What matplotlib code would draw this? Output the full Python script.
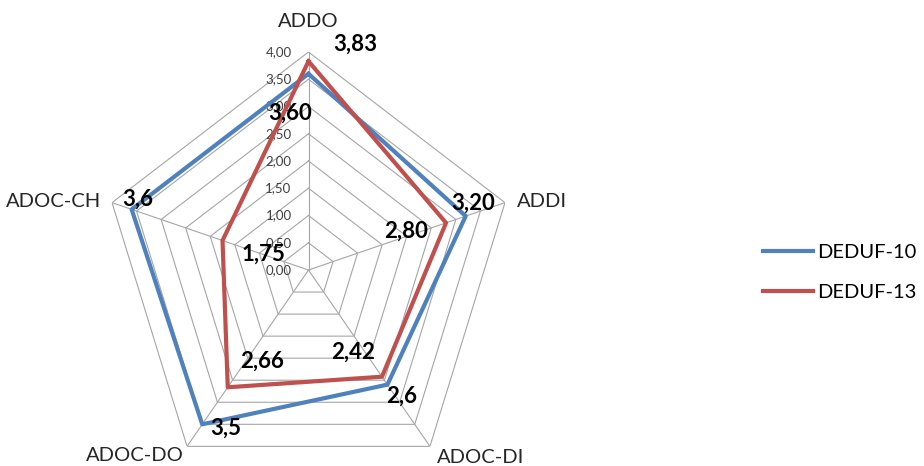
import numpy as np
import matplotlib.pyplot as plt

plt.rcParams['font.family'] = ['Lato', 'DejaVu Sans']

categories = ['ADDO', 'ADDI', 'ADOC-DI', 'ADOC-DO', 'ADOC-CH']
deduf10 = [3.60, 3.20, 2.6, 3.5, 3.6]
deduf13 = [3.83, 2.80, 2.42, 2.66, 1.75]
labels10 = ['3,60', '3,20', '2,6', '3,5', '3,6']
labels13 = ['3,83', '2,80', '2,42', '2,66', '1,75']
levels = [0, 0.5, 1, 1.5, 2, 2.5, 3, 3.5, 4]
level_labels = ['0,00', '0,50', '1,00', '1,50', '2,00', '2,50', '3,00', '3,50', '4,00']

blue = '#4F81BD'
red = '#C0504D'
grid = '#A6A6A6'

fig = plt.figure(figsize=(9.24, 4.66), dpi=100)
# axes box slightly narrower than tall (chart in reference is squeezed horizontally)
ax = fig.add_axes([101.9 / 924, -22 / 466, 413.2 / 924, 436 / 466], projection='polar')
ax.set_aspect('auto')
ax.set_theta_zero_location('N')
ax.set_theta_direction(-1)
ax.set_ylim(0, 4)
ax.grid(False)
ax.spines['polar'].set_visible(False)
ax.set_xticks([])
ax.set_yticks([])
ax.patch.set_alpha(0)

n = len(categories)
theta = np.arange(n) * 2 * np.pi / n
theta_c = np.append(theta, theta[0])

for lv in levels[1:]:
    ax.plot(theta_c, [lv] * (n + 1), color=grid, lw=0.8, zorder=1)
for t in theta:
    ax.plot([t, t], [0, 4], color=grid, lw=0.8, zorder=1)

for lv, txt in zip(levels, level_labels):
    ax.annotate(txt, (0, lv), xytext=(-17, 0), textcoords='offset pixels',
                ha='right', va='center', fontsize=9.5, color='#404040', zorder=2)

ax.plot(theta_c, deduf10 + deduf10[:1], color=blue, lw=3, label='DEDUF-10', zorder=3)
ax.plot(theta_c, deduf13 + deduf13[:1], color=red, lw=3, label='DEDUF-13', zorder=4)

# data label offsets in pixels (x right, y up)
off10 = [(-18, -39), (7, 13), (14, -12), (23, -4), (6, 10)]
off13 = [(47, 17), (-40, -8), (-29, 24), (34, 26), (41, -14)]
for t, v, s, o in zip(theta, deduf10, labels10, off10):
    ax.annotate(s, (t, v), xytext=o, textcoords='offset pixels', ha='center', va='center',
                fontsize=16, fontweight='bold', color='black', zorder=5)
for t, v, s, o in zip(theta, deduf13, labels13, off13):
    ax.annotate(s, (t, v), xytext=o, textcoords='offset pixels', ha='center', va='center',
                fontsize=16, fontweight='bold', color='black', zorder=5)

cat_pos = [((0, 30), 'center'), ((12, 1), 'left'), ((7, -11), 'left'),
           ((-3, -9), 'right'), ((-11, 1), 'right')]
for t, c, (o, ha) in zip(theta, categories, cat_pos):
    ax.annotate(c, (t, 4), xytext=o, textcoords='offset pixels', ha=ha, va='center',
                fontsize=14.5, color='#262626', annotation_clip=False)

h, l = ax.get_legend_handles_labels()
fig.legend(h, l, loc='center left', bbox_to_anchor=(763 / 924, 1 - 272.5 / 466),
           frameon=False, fontsize=14.5, handlelength=2.5, handletextpad=0.2,
           labelspacing=1.15, borderpad=0, borderaxespad=0)

fig.savefig('out.png', dpi=100)
